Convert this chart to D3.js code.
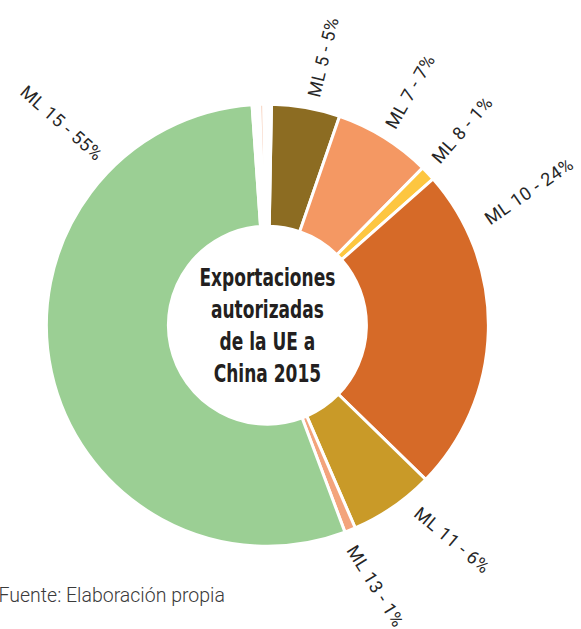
<!DOCTYPE html>
<html>
<head>
<meta charset="utf-8">
<script src="https://cdn.jsdelivr.net/npm/d3@7"></script>
<style>
  html, body { margin: 0; padding: 0; background: #fff; }
  svg { display: block; }
</style>
</head>
<body>
<svg id="chart" width="581" height="629"></svg>
<script>
// ---- data ----
const categories = ["ML 5", "ML 7", "ML 8", "ML 10", "ML 11", "ML 13", "ML 15", "otros a", "otros b", "otros c"];
const values     = [5, 7.1, 1.1, 23.8, 6.2, 0.8, 54.6, 0.55, 0.3, 0.55];
const percentLabels = ["5%", "7%", "1%", "24%", "6%", "1%", "55%", "", "", ""];
const colors = ["#8c6c22", "#f49863", "#fdc640", "#d66a28", "#c99a28", "#f3a47c", "#9bcf94", "#ffffff", "#f6cdb8", "#ffffff"];
const titleLines = ["Exportaciones", "autorizadas", "de la UE a", "China 2015"];
const sourceText = "Fuente: Elaboración propia";

// ---- layout ----
const cx = 267.4, cy = 325.2;
const outerR = 221, innerR = 99;
const startDeg = 1.06;
// label placement (degrees clockwise from top, radius, text rotation)
const labelLayout = {
  "ML 5":  {a: 11.4,  r: 233, rot: -76.5, flip: false},
  "ML 7":  {a: 31.7,  r: 233, rot: -60.5, flip: false},
  "ML 8":  {a: 45.5,  r: 235, rot: -48.8, flip: false},
  "ML 10": {a: 64.4,  r: 243, rot: -34.6, flip: false},
  "ML 11": {a: 141.1, r: 238, rot: 39.8,  flip: false},
  "ML 13": {a: 159.2, r: 237, rot: 58.3,  flip: false},
  "ML 15": {a: 315.2, r: 237, rot: 41.4,  flip: true}
};

const svg = d3.select("#chart");
const g = svg.append("g").attr("transform", `translate(${cx},${cy})`);

const data = categories.map((c, i) => ({cat: c, value: values[i], color: colors[i], pct: percentLabels[i]}));

const toRad = d => d * Math.PI / 180;
const pie = d3.pie().sort(null).value(d => d.value)
  .startAngle(toRad(startDeg)).endAngle(toRad(startDeg + 360));
const arc = d3.arc().innerRadius(innerR).outerRadius(outerR);

g.selectAll("path.slice").data(pie(data)).join("path")
  .attr("class", "slice")
  .attr("d", arc)
  .attr("fill", d => d.data.color)
  .attr("stroke", "#ffffff")
  .attr("stroke-width", 3)
  .attr("stroke-linejoin", "miter");

// labels
const labelFont = "Roboto, 'Liberation Sans', sans-serif";
g.selectAll("text.lbl").data(data.filter(d => d.pct)).join("text")
  .attr("class", "lbl")
  .each(function(d) {
    const L = labelLayout[d.cat];
    const a = toRad(L.a);
    const x = L.r * Math.sin(a), y = -L.r * Math.cos(a);
    d3.select(this)
      .attr("transform", `translate(${x},${y}) rotate(${L.rot})`)
      .attr("text-anchor", L.flip ? "end" : "start");
  })
  .attr("dominant-baseline", "central")
  .attr("font-family", labelFont)
  .attr("font-weight", 400)
  .attr("font-size", 18)
  .attr("letter-spacing", 0.5)
  .attr("fill", "#262626")
  .text(d => `${d.cat} - ${d.pct}`);

// center title (bold condensed look)
const titleG = g.append("g");
const title = titleG.append("text")
  .attr("text-anchor", "middle")
  .attr("font-family", "'Liberation Sans Narrow', 'DejaVu Sans Condensed', 'Roboto Condensed', 'Liberation Sans', sans-serif")
  .attr("font-weight", "bold")
  .attr("font-size", 24)
  .attr("fill", "#231f20");
const tspans = titleLines.map((t, i) =>
  title.append("tspan").attr("x", 0).attr("y", -39.5 + i * 32.2).text(t));
// compress horizontally so the widest line spans ~136px as in the reference
const widest = d3.max(tspans, s => s.node().getComputedTextLength());
const sx = widest > 0 ? 136 / widest : 1;
titleG.attr("transform", `scale(${sx},1)`);

// source
svg.append("text")
  .attr("x", -1.5).attr("y", 601.5)
  .attr("font-family", labelFont)
  .attr("font-weight", 300)
  .attr("font-size", 19.5)
  .attr("fill", "#3a3a3a")
  .text(sourceText);
</script>
</body>
</html>
